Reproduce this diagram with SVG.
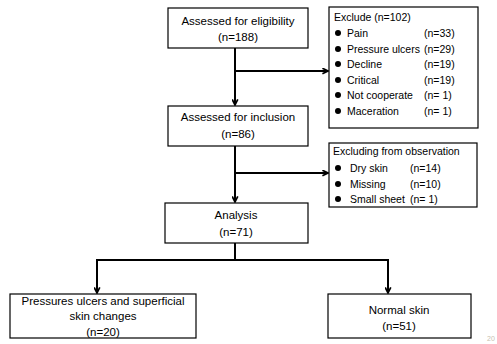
<svg xmlns="http://www.w3.org/2000/svg" width="497" height="344" viewBox="0 0 497 344">
<style>
.box{fill:#fff;stroke:#000;stroke-width:1.2}
.t{font-family:"Liberation Sans",Arial,sans-serif;font-size:10.5px;fill:#000}
.m{font-size:11.5px}
.c{text-anchor:middle}
.ln{fill:none;stroke:#000;stroke-width:2}
.dot{fill:#000}
</style>
<defs>
<marker id="ah" viewBox="0 0 10 10" refX="9" refY="5" markerWidth="7" markerHeight="7" orient="auto" markerUnits="userSpaceOnUse">
<path d="M1,1 L9,5 L1,9" fill="none" stroke="#000" stroke-width="2.4"/>
</marker>
</defs>
<rect width="497" height="344" fill="#fff"/>
<g id="connectors">
<path class="ln" d="M235,48 V105" marker-end="url(#ah)"/>
<path class="ln" d="M235,71 H328" marker-end="url(#ah)"/>
<path class="ln" d="M235,146 V202" marker-end="url(#ah)"/>
<path class="ln" d="M235,173 H328" marker-end="url(#ah)"/>
<path class="ln" d="M235,243 V260 H97 V293" marker-end="url(#ah)"/>
<path class="ln" d="M235,260 H388 V293" marker-end="url(#ah)"/>
</g>
<g id="eligibility">
<rect class="box" x="168" y="8" width="140" height="40"/>
<text class="t m c" x="238" y="25">Assessed for eligibility</text>
<text class="t m c" x="238" y="41">(n=188)</text>
</g>
<g id="exclude">
<rect class="box" x="329" y="7" width="149" height="121"/>
<text class="t" x="334" y="21">Exclude (n=102)</text>
<circle class="dot" cx="338" cy="33" r="3"/><text class="t" x="347" y="37">Pain</text><text class="t" x="424" y="37">(n=33)</text>
<circle class="dot" cx="338" cy="49" r="3"/><text class="t" x="347" y="53">Pressure ulcers</text><text class="t" x="424" y="53">(n=29)</text>
<circle class="dot" cx="338" cy="64" r="3"/><text class="t" x="347" y="68">Decline</text><text class="t" x="424" y="68">(n=19)</text>
<circle class="dot" cx="338" cy="80" r="3"/><text class="t" x="347" y="84">Critical</text><text class="t" x="424" y="84">(n=19)</text>
<circle class="dot" cx="338" cy="95" r="3"/><text class="t" x="347" y="99">Not cooperate</text><text class="t" x="424" y="99">(n= 1)</text>
<circle class="dot" cx="338" cy="111" r="3"/><text class="t" x="347" y="115">Maceration</text><text class="t" x="424" y="115">(n= 1)</text>
</g>
<g id="inclusion">
<rect class="box" x="168" y="106" width="140" height="40"/>
<text class="t m c" x="238" y="121">Assessed for inclusion</text>
<text class="t m c" x="238" y="138">(n=86)</text>
</g>
<g id="excluding">
<rect class="box" x="329" y="143" width="148" height="64"/>
<text class="t" x="333" y="155">Excluding from observation</text>
<circle class="dot" cx="338" cy="168" r="3"/><text class="t" x="350" y="172">Dry skin</text><text class="t" x="410" y="172">(n=14)</text>
<circle class="dot" cx="338" cy="184" r="3"/><text class="t" x="350" y="188">Missing</text><text class="t" x="410" y="188">(n=10)</text>
<circle class="dot" cx="338" cy="199" r="3"/><text class="t" x="350" y="203">Small sheet</text><text class="t" x="410" y="203">(n= 1)</text>
</g>
<g id="analysis">
<rect class="box" x="165" y="203" width="143" height="40"/>
<text class="t m c" x="236" y="219">Analysis</text>
<text class="t m c" x="236" y="236">(n=71)</text>
</g>
<g id="pressure">
<rect class="box" x="10" y="294" width="186" height="44"/>
<text class="t m c" x="103" y="305">Pressures ulcers and superficial</text>
<text class="t m c" x="103" y="320">skin changes</text>
<text class="t m c" x="103" y="336">(n=20)</text>
</g>
<g id="normal">
<rect class="box" x="328" y="294" width="143" height="44"/>
<text class="t m c" x="399" y="314">Normal skin</text>
<text class="t m c" x="399" y="330">(n=51)</text>
</g>
<text x="487" y="341" font-family="Liberation Sans, sans-serif" font-size="7px" fill="#c8c0b0">20</text>
</svg>
